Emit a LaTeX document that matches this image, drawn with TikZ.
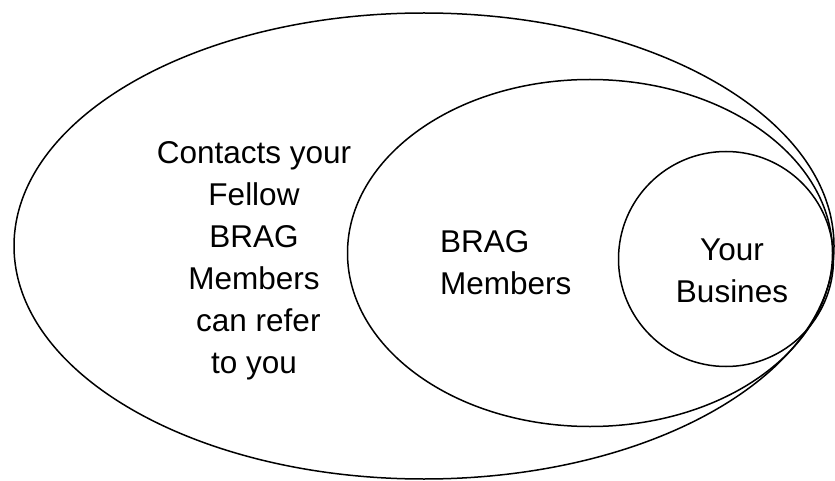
\documentclass[tikz,border=0pt]{standalone}
\usepackage{fontspec}
\setmainfont{Liberation Sans}
\usetikzlibrary{shapes.geometric,positioning}
\tikzset{
  ring/.style={draw=black,line width=1.5pt,ellipse,inner sep=0pt},
  ringlbl/.style={font=\fontsize{31.5}{42}\selectfont,text=black,inner sep=0pt},
}

\begin{document}
\begin{tikzpicture}[x=1pt,y=-1pt]
  \useasboundingbox (0,0) rectangle (835,481);
  % Nested circles, all touching on the right.
  \node[ring,minimum width=820,minimum height=466] (outer) at (424,246) {};
  \node[ring,minimum width=485,minimum height=347] (middle) at (590,253) {};
  \node[ring,circle,minimum size=215] (inner) at (726,259) {};

  % Labels.
  \node[ringlbl,align=center] (contacts) at (254,261)
        {Contacts your\\Fellow\\BRAG\\Members\\\ can refer\\to you};
  \node[ringlbl,align=left,anchor=west] (members) at (440,263) {BRAG\\Members};
  \node[ringlbl,align=center] (business) at (732,271) {Your\\Busines};
\end{tikzpicture}
\end{document}
